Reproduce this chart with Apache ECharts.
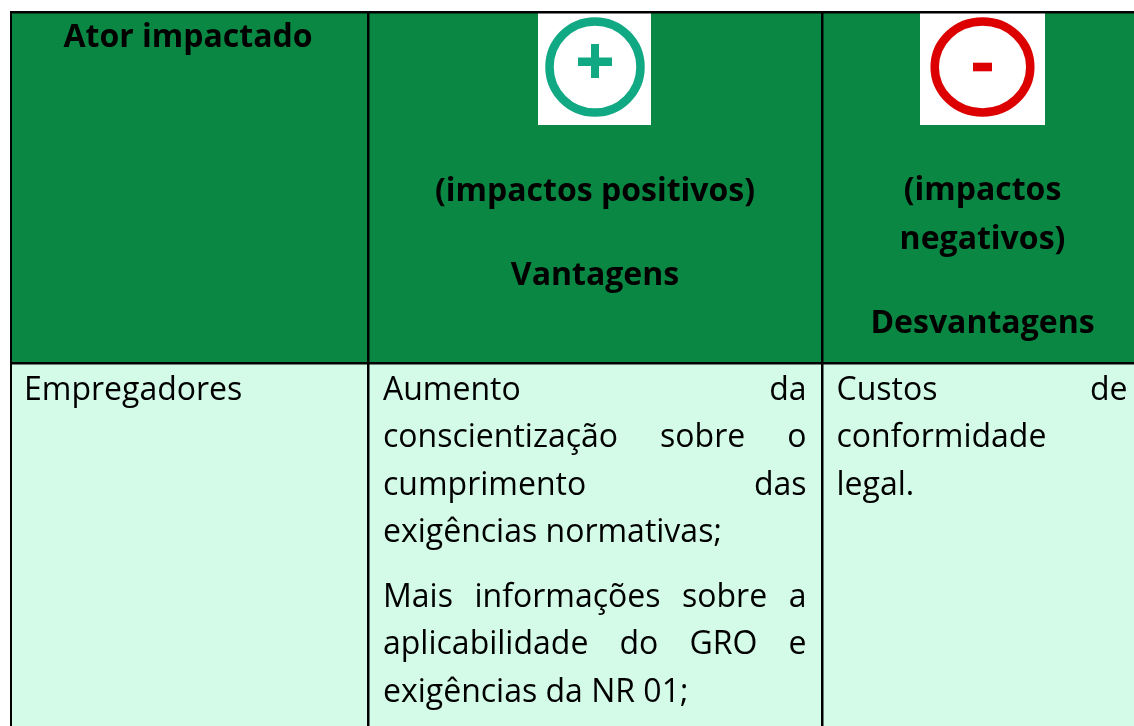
<!DOCTYPE html>
<html>
<head>
<meta charset="utf-8">
<style>
html, body { margin: 0; padding: 0; background: #fff; }
#main { width: 1134px; height: 726px; }
</style>
<script src="https://cdn.jsdelivr.net/npm/echarts@6/dist/echarts.min.js"></script>
</head>
<body>
<div id="main"></div>
<script>
const headerActor = ['Ator impactado'];
const headerPositive = ['(impactos positivos)', 'Vantagens'];
const headerNegative = ['(impactos', 'negativos)', 'Desvantagens'];
const rowActor = 'Empregadores';
// [text, justified]
const rowPositive = [
    ['Aumento da', true],
    ['conscientização sobre o', true],
    ['cumprimento das', true],
    ['exigências normativas;', false]
];
const rowPositive2 = [
    ['Mais informações sobre a', true],
    ['aplicabilidade do GRO e', true],
    ['exigências da NR 01;', false]
];
const rowNegative = [
    ['Custos de', true],
    ['conformidade', false],
    ['legal.', false]
];

const fontFamily = '"Open Sans", sans-serif';
const textSize = 32;
const lineGap = 47.6;
const textOffset = 2.5; // canvas middle sits a bit high for this font

const ctx = document.createElement('canvas').getContext('2d');
function measure(str, font) {
    ctx.font = font;
    return ctx.measureText(str).width;
}

let g = [];

function rect(x, y, w, h, fill) {
    g.push({type: 'rect', shape: {x: x, y: y, width: w, height: h}, style: {fill: fill}});
}

function label(str, x, y, bold, align) {
    g.push({
        type: 'text', x: x, y: y + textOffset,
        style: {
            text: str, fill: '#000',
            font: (bold ? 'bold ' : '') + textSize + 'px ' + fontFamily,
            textAlign: align || 'left', textVerticalAlign: 'middle'
        }
    });
}

// left-aligned or word-justified line
function bodyLine(item, left, right, y) {
    let font = textSize + 'px ' + fontFamily;
    if (!item[1]) {
        label(item[0], left, y, false);
        return;
    }
    let words = item[0].split(' ');
    let total = 0;
    words.forEach(function (w) { total += measure(w, font); });
    let gap = (right - left - total) / (words.length - 1);
    let x = left;
    words.forEach(function (w) {
        label(w, x, y, false);
        x += measure(w, font) + gap;
    });
}

// backgrounds
rect(11, 13, 1123, 350, '#0a8843');
rect(11, 363, 1123, 363, '#d4fbe7');

// plus icon
rect(538, 13, 113, 112, '#fff');
g.push({type: 'circle', shape: {cx: 595, cy: 67, r: 45.5}, style: {fill: 'none', stroke: '#11a984', lineWidth: 8.5}});
rect(578, 57.5, 34, 8.5, '#11a984');
rect(591, 44, 8, 34, '#11a984');

// minus icon
rect(920, 13, 125, 112, '#fff');
g.push({type: 'ellipse', shape: {cx: 982.5, cy: 67, rx: 47.8, ry: 45.5}, style: {fill: 'none', stroke: '#dc0000', lineWidth: 8.5}});
rect(973, 62.7, 19, 8.6, '#dc0000');

// header text
label(headerActor[0], 188, 35.5, true, 'center');
label(headerPositive[0], 595, 189.5, true, 'center');
label(headerPositive[1], 595, 273.5, true, 'center');
label(headerNegative[0], 982.5, 188.5, true, 'center');
label(headerNegative[1], 982.5, 237, true, 'center');
label(headerNegative[2], 982.5, 321, true, 'center');

// body text
label(rowActor, 24, 388, false);
rowPositive.forEach(function (item, i) {
    bodyLine(item, 383, 806.5, 388 + i * lineGap);
});
rowPositive2.forEach(function (item, i) {
    bodyLine(item, 383, 806.5, 595 + i * lineGap);
});
rowNegative.forEach(function (item, i) {
    bodyLine(item, 836.5, 1127.5, 388 + i * lineGap);
});

// borders
rect(10, 11, 1124, 2.5, '#000');
rect(10, 362, 1124, 2.5, '#000');
rect(10, 11, 2, 715, '#000');
rect(367, 11, 2.5, 715, '#000');
rect(821, 11, 2.5, 715, '#000');

let myChart = echarts.init(document.getElementById('main'), null, {renderer: 'canvas'});
myChart.setOption({
    animation: false,
    graphic: {elements: g}
});
</script>
</body>
</html>
